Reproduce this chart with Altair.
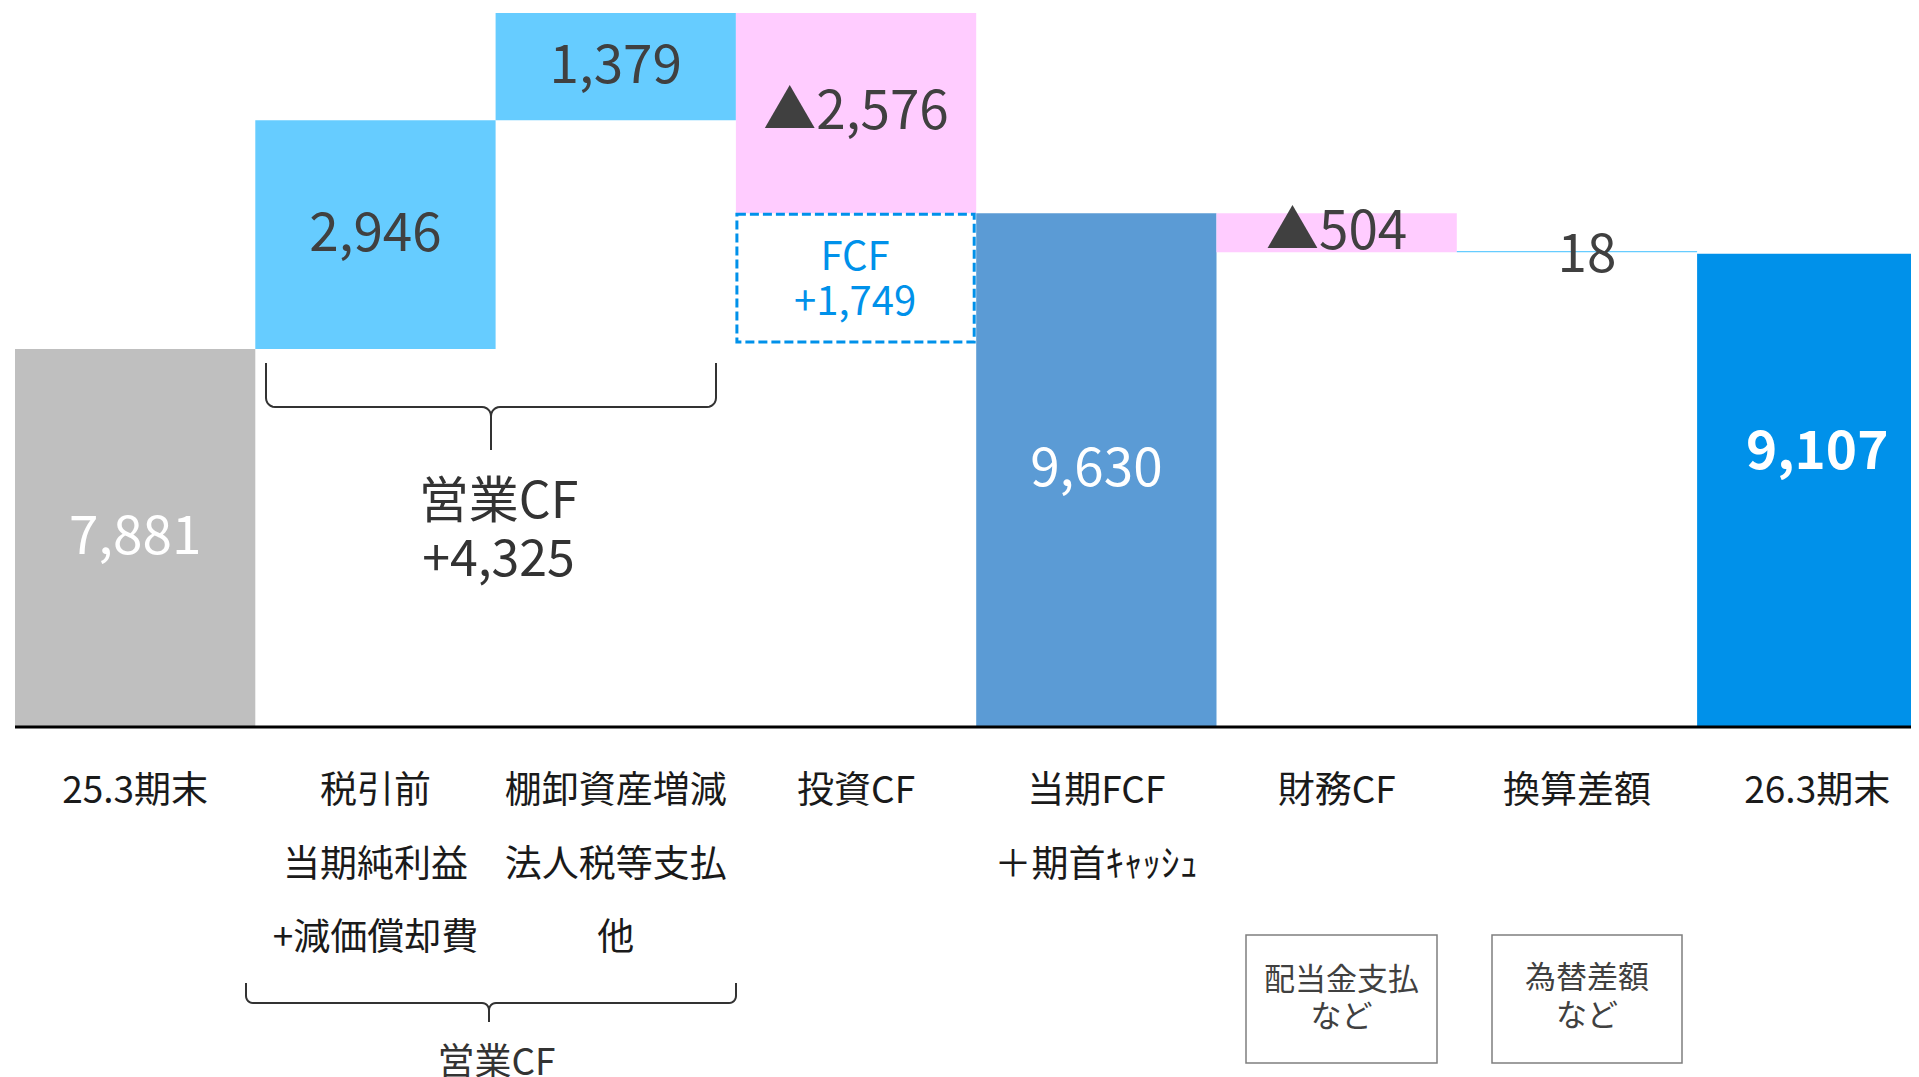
import math
import altair as alt
import pandas as pd

# ---------------- data ----------------
LABEL_LINE1 = ["25.3期末", "税引前", "棚卸資産増減", "投資CF", "当期FCF", "財務CF", "換算差額", "26.3期末"]
LABEL_LINE2 = ["", "当期純利益", "法人税等支払", "", "＋期首ｷｬｯｼｭ", "", "", ""]
LABEL_LINE3 = ["", "+減価償却費", "他", "", "", "", "", ""]
VALUES = [7881, 2946, 1379, -2576, 9630, -504, 18, 9107]
KINDS = ["start", "up", "up", "down", "subtotal", "down", "up", "end"]
VALUE_LABELS = ["7,881", "2,946", "1,379", "▲2,576", "9,630", "▲504", "18", "9,107"]
NOTE_BOX_TEXTS = [["配当金支払", "など"], ["為替差額", "など"]]
OP_CF_TITLE = "営業CF"
FCF_TITLE = "FCF"

# ---------------- layout / style ----------------
BAND = 240.3            # px per category
PLOT_W = 1896
PLOT_H = 714
PAD = {"left": 7, "top": 5, "right": 0, "bottom": 350}
TOP_VAL = 12206
FLOOR_VAL = 3016
K = PLOT_H / (TOP_VAL - FLOOR_VAL)  # px per unit
FONT = "Noto Sans CJK JP"
COLORS = {"start": "#BFBFBF", "up": "#66CCFF", "down": "#FFCCFF",
          "subtotal": "#5B9BD5", "end": "#0091EA"}
TEXT_DARK = "#404040"
TEXT_CAT = "#1A1A1A"
FCF_BLUE = "#0091EA"
LABEL_SHIFT = {6: (10, 4), 7: (0, -37)}   # index -> (dx px, dy px)
CAT_ROWS_Y = [779, 853, 926]

X = alt.Scale(domain=[0, PLOT_W / BAND], nice=False, zero=False)
YV = alt.Scale(domain=[FLOOR_VAL, TOP_VAL], nice=False, zero=False)
YL = alt.Scale(domain=[PLOT_H, 0], nice=False, zero=False)  # layout px from plot top

# ---------------- waterfall table ----------------
rows = []
running = 0
for i, (v, k, lab) in enumerate(zip(VALUES, KINDS, VALUE_LABELS)):
    if k in ("start", "subtotal", "end"):
        lo, hi = 0, v
        running = v
    else:
        lo, hi = running, running + v
        running += v
    lo, hi = min(lo, hi), max(lo, hi)
    mid = (max(lo, FLOOR_VAL) + hi) / 2
    dx, dy = LABEL_SHIFT.get(i, (0, 0))
    rows.append(dict(i=i, x0=i, x1=i + 1, xm=i + 0.5 + dx / BAND, lo=lo, hi=hi,
                     ly=mid - dy / K, fill=COLORS[k], label=lab,
                     tcolor="#FFFFFF" if k in ("start", "subtotal", "end") else TEXT_DARK,
                     bold=(k == "end")))
df = pd.DataFrame(rows)

bars = alt.Chart(df).mark_rect(clip=True).encode(
    x=alt.X("x0:Q", scale=X, axis=None), x2="x1:Q",
    y=alt.Y("lo:Q", scale=YV, axis=None), y2="hi:Q",
    color=alt.Color("fill:N", scale=None),
)

val_labels = alt.Chart(df[~df.bold]).mark_text(
    font=FONT, fontSize=53, baseline="middle", align="center"
).encode(
    x=alt.X("xm:Q", scale=X, axis=None),
    y=alt.Y("ly:Q", scale=YV, axis=None),
    text="label:N",
    color=alt.Color("tcolor:N", scale=None),
)
val_labels_bold = alt.Chart(df[df.bold]).mark_text(
    font=FONT, fontSize=53, fontWeight="bold", baseline="middle", align="center"
).encode(
    x=alt.X("xm:Q", scale=X, axis=None),
    y=alt.Y("ly:Q", scale=YV, axis=None),
    text="label:N",
    color=alt.Color("tcolor:N", scale=None),
)

# FCF dashed box between start and subtotal levels
fcf_val = VALUES[4] - VALUES[0]
fcf_df = pd.DataFrame([dict(x0=3 + 1 / BAND, x1=4 - 2 / BAND, top=VALUES[4] - 1 / K,
                            bot=VALUES[0] + 7 / K, xm=3.5 - 1 / BAND,
                            ym=VALUES[4] - 45 / K)])
fcf_box = alt.Chart(fcf_df).mark_rect(
    fill="#FFFFFF", fillOpacity=0, stroke=FCF_BLUE, strokeWidth=3, strokeDash=[9, 4]
).encode(
    x=alt.X("x0:Q", scale=X, axis=None), x2="x1:Q",
    y=alt.Y("top:Q", scale=YV, axis=None), y2="bot:Q",
)
fcf_text = alt.Chart(fcf_df).mark_text(
    font=FONT, fontSize=40, lineHeight=45, baseline="middle", align="center",
    color=FCF_BLUE, text=[FCF_TITLE, f"+{fcf_val:,}"]
).encode(
    x=alt.X("xm:Q", scale=X, axis=None),
    y=alt.Y("ym:Q", scale=YV, axis=None),
)

# baseline (axis line)
base_df = pd.DataFrame([dict(y=FLOOR_VAL)])
baseline = alt.Chart(base_df).mark_rule(color="#000000", strokeWidth=3).encode(
    y=alt.Y("y:Q", scale=YV, axis=None)
)

# ---------------- annotations (layout px below plot top) ----------------
def brace_points(name, xl, xr, xm, y_top, y_h, y_tip, r, n=6):
    pts = [(xl, y_top)]
    cx, cy = xl + r, y_h - r
    for j in range(n + 1):
        t = math.pi - (math.pi / 2) * j / n
        pts.append((cx + r * math.cos(t), cy + r * math.sin(t)))
    cx, cy = xm - r, y_h + r
    for j in range(n + 1):
        t = -math.pi / 2 + (math.pi / 2) * j / n
        pts.append((cx + r * math.cos(t), cy + r * math.sin(t)))
    pts.append((xm, y_tip))
    cx, cy = xm + r, y_h + r
    for j in range(n + 1):
        t = math.pi + (math.pi / 2) * j / n
        pts.append((cx + r * math.cos(t), cy + r * math.sin(t)))
    cx, cy = xr - r, y_h - r
    for j in range(n + 1):
        t = math.pi / 2 - (math.pi / 2) * j / n
        pts.append((cx + r * math.cos(t), cy + r * math.sin(t)))
    pts.append((xr, y_top))
    return [dict(brace=name, o=o, bx=px / BAND, by=py) for o, (px, py) in enumerate(pts)]

brace_df = pd.DataFrame(
    brace_points("top", 251, 701, 476, 350, 394, 437, 9)
    + brace_points("bottom", 231, 721, 474, 970, 990, 1009, 7)
)
braces = alt.Chart(brace_df).mark_line(color="#333333", strokeWidth=2, clip=False).encode(
    x=alt.X("bx:Q", scale=X, axis=None),
    y=alt.Y("by:Q", scale=YL, axis=None),
    detail="brace:N", order="o:Q",
)

op_cf = VALUES[1] + VALUES[2]
opcf_text = alt.Chart(pd.DataFrame([dict(x=483.5 / BAND, y=490)])).mark_text(
    font=FONT, fontSize=50, lineHeight=58, baseline="middle", align="center",
    color="#333333", text=[OP_CF_TITLE, f"+{op_cf:,}"]
).encode(x=alt.X("x:Q", scale=X, axis=None), y=alt.Y("y:Q", scale=YL, axis=None))

opcf_bottom = alt.Chart(pd.DataFrame([dict(x=481.5 / BAND, y=1051)])).mark_text(
    font=FONT, fontSize=37, baseline="middle", align="center", color="#333333",
    text=OP_CF_TITLE
).encode(x=alt.X("x:Q", scale=X, axis=None), y=alt.Y("y:Q", scale=YL, axis=None))

# category labels (three rows)
cat_rows = []
for i in range(len(LABEL_LINE1)):
    for arr, yy in zip([LABEL_LINE1, LABEL_LINE2, LABEL_LINE3], CAT_ROWS_Y):
        if arr[i]:
            cat_rows.append(dict(x=i + 0.5, y=yy, t=arr[i]))
cat_df = pd.DataFrame(cat_rows)
cat_labels = alt.Chart(cat_df).mark_text(
    font=FONT, fontSize=37, baseline="middle", align="center", color=TEXT_CAT
).encode(
    x=alt.X("x:Q", scale=X, axis=None),
    y=alt.Y("y:Q", scale=YL, axis=None),
    text="t:N",
)

# note boxes
box_geom = [(1231, 1422, 922, 1050, 968, 37), (1477, 1667, 922, 1050, 966, 38)]
box_rows = []
for (xl, xr, yt, yb, ty, lh), txt in zip(box_geom, NOTE_BOX_TEXTS):
    box_rows.append(dict(x0=xl / BAND, x1=xr / BAND, y0=yt, y1=yb))
box_df = pd.DataFrame(box_rows)
boxes = alt.Chart(box_df).mark_rect(
    fill="#FFFFFF", stroke="#7F7F7F", strokeWidth=1.5
).encode(
    x=alt.X("x0:Q", scale=X, axis=None), x2="x1:Q",
    y=alt.Y("y0:Q", scale=YL, axis=None), y2="y1:Q",
)
box_texts = []
for (xl, xr, yt, yb, ty, lh), txt in zip(box_geom, NOTE_BOX_TEXTS):
    box_texts.append(
        alt.Chart(pd.DataFrame([dict(x=(xl + xr) / 2 / BAND, y=ty)])).mark_text(
            font=FONT, fontSize=31, lineHeight=lh, baseline="middle", align="center",
            color=TEXT_DARK, text=txt
        ).encode(x=alt.X("x:Q", scale=X, axis=None), y=alt.Y("y:Q", scale=YL, axis=None))
    )

chart = alt.layer(
    bars, fcf_box, val_labels, val_labels_bold, fcf_text, baseline,
    braces, opcf_text, opcf_bottom, cat_labels, boxes, *box_texts
).resolve_scale(y="independent").properties(
    width=PLOT_W, height=PLOT_H,
    autosize=alt.AutoSizeParams(type="none"),
    padding=PAD,
    background="#FFFFFF",
).configure_view(strokeWidth=0, stroke=None)

chart.save("out.html", embed_options={"renderer": "svg", "actions": False})
